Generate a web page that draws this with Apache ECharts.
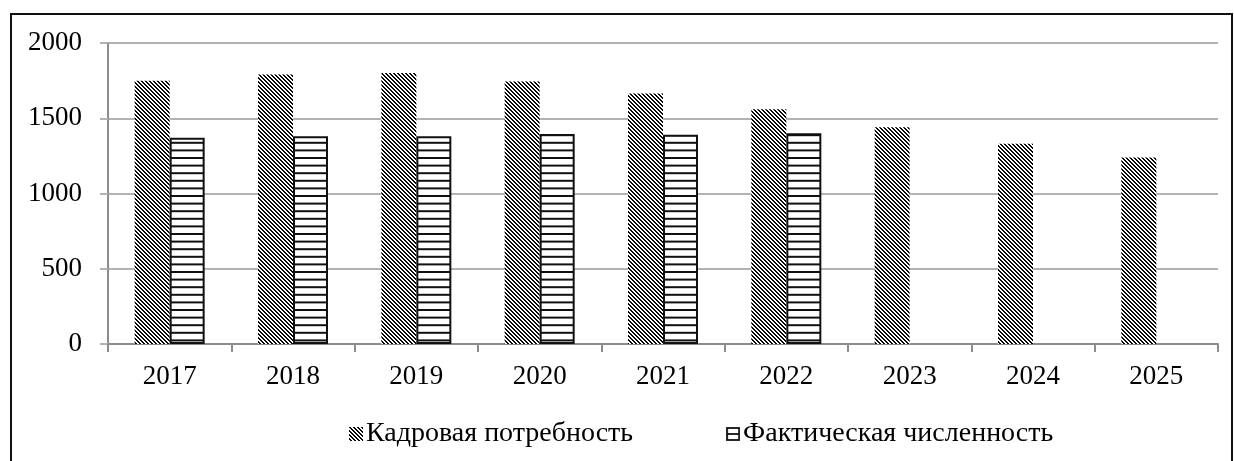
<!DOCTYPE html>
<html>

<head>
    <meta charset="utf8">
    <script src="https://cdn.jsdelivr.net/npm/echarts@6/dist/echarts.min.js"></script>
    <style>
        html, body { margin: 0; padding: 0; background: #fff; }
        #main { width: 1234px; height: 461px; }
    </style>
</head>

<body>
    <div id="main"></div>
    <script type="text/javascript">
        var years = ['2017', '2018', '2019', '2020', '2021', '2022', '2023', '2024', '2025'];
        var need = [1750, 1790, 1800, 1745, 1665, 1560, 1440, 1330, 1240];
        var actual = [1370, 1380, 1380, 1395, 1390, 1400, null, null, null];
        var seriesNames = ['Кадровая потребность', 'Фактическая численность'];
        var yTicks = [0, 500, 1000, 1500, 2000];

        // diagonal stripes "\" black / white
        function diagCanvas(size) {
            var c = document.createElement('canvas');
            c.width = size; c.height = size;
            var ctx = c.getContext('2d');
            var img = ctx.createImageData(size, size);
            for (var y = 0; y < size; y++) {
                for (var x = 0; x < size; x++) {
                    var k = ((x - y) % 4 + 4) % 4;
                    var v = k < 2 ? 10 : 255;
                    var i = (y * size + x) * 4;
                    img.data[i] = v; img.data[i + 1] = v; img.data[i + 2] = v; img.data[i + 3] = 255;
                }
            }
            ctx.putImageData(img, 0, 0);
            return c;
        }

        // horizontal lines on white, period ~7.6px
        function horizCanvas() {
            var c = document.createElement('canvas');
            c.width = 4; c.height = 38;
            var ctx = c.getContext('2d');
            ctx.fillStyle = '#fff';
            ctx.fillRect(0, 0, 4, 38);
            ctx.fillStyle = '#111';
            for (var i = 0; i < 5; i++) {
                ctx.fillRect(0, i * 7.6 + 5, 4, 2);
            }
            return c;
        }

        function legendHoriz() {
            var c = document.createElement('canvas');
            c.width = 14; c.height = 14;
            var ctx = c.getContext('2d');
            ctx.fillStyle = '#fff';
            ctx.fillRect(0, 0, 14, 14);
            ctx.strokeStyle = '#111';
            ctx.lineWidth = 1.8;
            ctx.strokeRect(1, 1, 12, 12);
            ctx.fillStyle = '#111';
            ctx.fillRect(1, 6.1, 12, 1.8);
            return c.toDataURL();
        }

        var chart = echarts.init(document.getElementById('main'));
        var font = 'Liberation Serif';
        var option = {
            animation: false,
            backgroundColor: '#fff',
            textStyle: { fontFamily: font, color: '#000' },
            graphic: [{
                type: 'rect',
                shape: { x: 11, y: 14, width: 1221, height: 470 },
                style: { fill: 'none', stroke: '#111', lineWidth: 2 },
                silent: true
            }],
            grid: { left: 108, right: 16, top: 43, bottom: 117 },
            legend: {
                left: 344,
                top: 415,
                itemWidth: 14,
                itemHeight: 14,
                itemGap: 93,
                textStyle: { fontFamily: font, fontSize: 28, color: '#000', padding: [0, 0, 0, -2] },
                data: [
                    { name: seriesNames[0], icon: 'image://' + diagCanvas(14).toDataURL() },
                    { name: seriesNames[1], icon: 'image://' + legendHoriz() }
                ]
            },
            xAxis: {
                type: 'category',
                data: years,
                axisLine: { lineStyle: { color: '#8c8c8c', width: 2 } },
                axisTick: { show: true, length: 8, lineStyle: { color: '#8c8c8c', width: 2 } },
                axisLabel: { fontFamily: font, fontSize: 27, color: '#000', margin: 19 }
            },
            yAxis: {
                type: 'value',
                min: 0,
                max: yTicks[yTicks.length - 1],
                interval: yTicks[1] - yTicks[0],
                axisLine: { show: true, lineStyle: { color: '#8c8c8c', width: 2 } },
                axisTick: { show: true, length: 8, lineStyle: { color: '#b3b3b3', width: 2 } },
                splitLine: { lineStyle: { color: '#b3b3b3', width: 2 } },
                axisLabel: {
                    fontFamily: font, fontSize: 27, color: '#000', margin: 26,
                    formatter: function (v) { return String(v); }
                }
            },
            series: [{
                name: seriesNames[0],
                type: 'bar',
                data: need,
                barWidth: 35,
                barGap: '0%',
                itemStyle: { color: { image: diagCanvas(8), repeat: 'repeat' } }
            }, {
                name: seriesNames[1],
                type: 'bar',
                data: actual,
                barWidth: 35,
                barGap: '0%',
                itemStyle: {
                    color: { image: horizCanvas(), repeat: 'repeat' },
                    borderColor: '#111',
                    borderWidth: 2
                }
            }]
        };
        chart.setOption(option);
    </script>
</body>

</html>
